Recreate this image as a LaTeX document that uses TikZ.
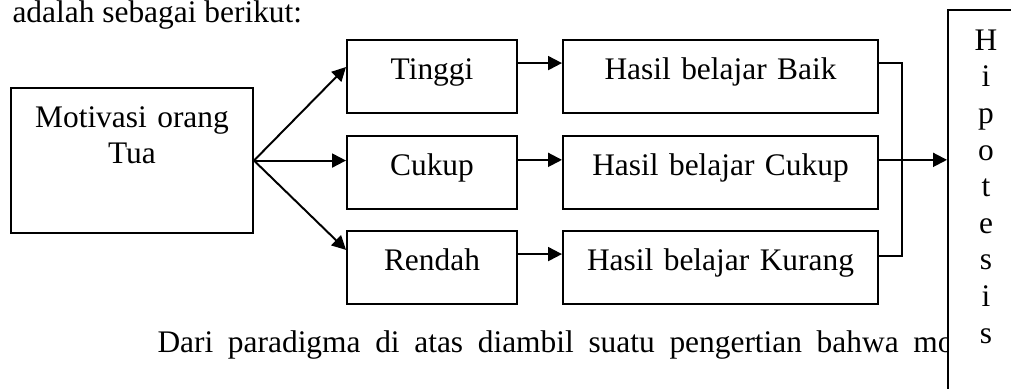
\documentclass[tikz,border=0pt]{standalone}
\usepackage{fontspec}
\setmainfont{Liberation Serif}
\usetikzlibrary{arrows.meta}
\tikzset{
  kotak/.style={draw, line width=0.8pt, fill=white, inner xsep=0pt, inner ysep=0pt,
    align=center, anchor=north west, text height=14.9pt, text depth=13pt},
  panah/.style={line width=0.75pt, -{Triangle[length=5.3pt,width=5.3pt]}},
  garis/.style={line width=0.75pt}
}
\begin{document}
\begin{tikzpicture}[x=0.382pt, y=-0.382pt, font=\fontsize{12}{14}\selectfont]
    \clip (0,0) rectangle (1011,389);
    % Teks paragraf
    \node[anchor=base west, inner sep=0pt] (teksatas) at (12,23) {adalah sebagai berikut:};
    \node[anchor=base west, inner sep=0pt] (teksbawah) at (157,353) {\spaceskip=5.6pt Dari paradigma di atas diambil suatu pengertian bahwa mo};
    % Kotak
    \node[kotak, text width=92.4pt, text depth=40.5pt] (motivasi) at (10,87) {Motivasi orang\\Tua};
    \node[kotak, text width=64.9pt] (tinggi) at (346,39) {Tinggi};
    \node[kotak, text width=64.9pt] (cukup) at (346,135) {Cukup};
    \node[kotak, text width=64.9pt] (rendah) at (346,230) {Rendah};
    \node[kotak, text width=120.3pt] (hbaik) at (562,39) {Hasil belajar Baik};
    \node[kotak, text width=120.3pt] (hcukup) at (562,135) {Hasil belajar Cukup};
    \node[kotak, text width=120.3pt] (hkurang) at (562,230) {Hasil belajar Kurang};
    \node[kotak, text width=29pt, text height=15.3pt, text depth=145pt] (hipotesis) at (947,9) {H\\i\\p\\o\\t\\e\\s\\i\\s};
    % Panah dari motivasi
    \draw[panah] (motivasi.east) -- ([yshift=-10.7pt]tinggi.north west);
    \draw[panah] (motivasi.east) -- (motivasi.east -| cukup.west);
    \draw[panah] (motivasi.east) -- ([yshift=-7.6pt]rendah.north west);
    % Panah ke hasil belajar
    \draw[panah] ([yshift=-9.2pt]tinggi.north east) -- ([yshift=-9.2pt]hbaik.north west);
    \draw[panah] ([yshift=-9.5pt]cukup.north east) -- ([yshift=-9.5pt]hcukup.north west);
    \draw[panah] ([yshift=-9.2pt]rendah.north east) -- ([yshift=-9.2pt]hkurang.north west);
    % Gabungan ke hipotesis
    \draw[garis] ([yshift=-9.2pt]hbaik.north east) -- ++(23,0) |- ([yshift=-9.9pt]hkurang.north east);
    \draw[panah] ([yshift=-9.5pt]hcukup.north east) coordinate (c) -- (c -| hipotesis.west);
\end{tikzpicture}
\end{document}
